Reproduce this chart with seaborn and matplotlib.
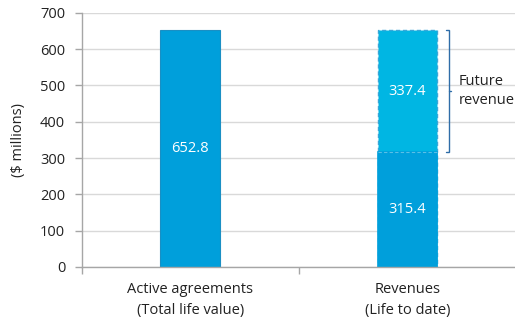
import matplotlib
matplotlib.use("Agg")
import matplotlib.pyplot as plt
import seaborn as sns
import pandas as pd

categories = ["Active agreements\n(Total life value)", "Revenues\n(Life to date)"]
total_values = [652.8, 652.8]
life_to_date = [315.4]
future_revenue = [337.4]
y_ticks = [0, 100, 200, 300, 400, 500, 600, 700]

dark_blue = "#009FDB"
light_blue = "#00B6E3"

sns.set_theme(style="white")
plt.rcParams["font.family"] = ["Open Sans", "DejaVu Sans"]

fig = plt.figure(figsize=(5.15, 3.22), dpi=100)
ax = fig.add_axes([0.159, 0.171, 0.843, 0.789])

# Full-height bars: total life value, and total of revenues (life to date + future)
df_total = pd.DataFrame({"category": categories, "value": total_values})
sns.barplot(data=df_total, x="category", y="value", hue="category",
            palette=[dark_blue, light_blue], width=0.276, legend=False, ax=ax,
            saturation=1)
bars = list(ax.patches)
bars[0].set_edgecolor("#1A8FC4")
bars[0].set_linewidth(0.8)
bars[1].set_edgecolor("#3AA6D8")
bars[1].set_linewidth(1.0)
bars[1].set_linestyle((0, (3, 2)))

# Revenue recognised to date, drawn over the lower part of the second bar
df_ltd = pd.DataFrame({"category": [categories[1]], "value": life_to_date})
sns.barplot(data=df_ltd, x="category", y="value", color=dark_blue,
            width=0.276, ax=ax, saturation=1, order=categories,
            linewidth=1.2, edgecolor=dark_blue)

# Dashed boundary between recognised and future revenue
ax.hlines(life_to_date[0], 1 - 0.138, 1 + 0.138, colors="#5BBFE6",
          linestyles=(0, (3, 2)), linewidth=0.8, zorder=5)

# Value labels
label_kw = dict(color="white", ha="center", va="center", fontsize=10.5)
ax.text(0, total_values[0] / 2, f"{total_values[0]:.1f}", **label_kw)
ax.text(1, life_to_date[0] / 2, f"{life_to_date[0]:.1f}", **label_kw)
ax.text(1, life_to_date[0] + future_revenue[0] / 2, f"{future_revenue[0]:.1f}",
        **label_kw)

# Bracket marking future revenue
lo = life_to_date[0]
hi = life_to_date[0] + future_revenue[0]
mid = (lo + hi) / 2
bx = 1.19
hook = 0.012
bracket_color = "#2F6DA8"
ax.plot([bx - hook, bx, bx, bx - hook], [hi, hi, lo, lo],
        color=bracket_color, lw=1, solid_joinstyle="miter", clip_on=False)
ax.plot([bx, bx + hook], [mid, mid], color=bracket_color, lw=1, clip_on=False)
ax.text(bx + 0.045, mid, "Future\nrevenue", ha="left", va="center",
        fontsize=10.5, color="#222222", linespacing=1.4)

# Axes styling
ax.set_xlim(-0.5, 1.5)
ax.set_ylim(0, 700)
ax.set_yticks(y_ticks)
ax.set_yticklabels([str(t) for t in y_ticks])
ax.yaxis.grid(True, color="#D9D9D9", linewidth=1)
ax.set_axisbelow(True)

ax.set_xticks([-0.5, 0.5, 1.5])
ax.set_xticklabels(["", "", ""])
ax.set_xticks([0, 1], minor=True)
ax.set_xticklabels(categories, minor=True, fontsize=10.5, color="#222222",
                   linespacing=1.55)
ax.tick_params(axis="x", which="major", length=5, color="#A6A6A6", width=1,
               bottom=True)
ax.tick_params(axis="x", which="minor", length=0, pad=11)
ax.tick_params(axis="y", length=5, color="#A6A6A6", width=1, left=True,
               labelsize=10.5, labelcolor="#222222", pad=7)
ax.set_xlabel("")
ax.set_ylabel("($ millions)", fontsize=10.5, color="#222222", labelpad=10)

for side in ["top", "right"]:
    ax.spines[side].set_visible(False)
for side in ["left", "bottom"]:
    ax.spines[side].set_color("#A6A6A6")
    ax.spines[side].set_linewidth(1)

fig.savefig("out.png", dpi=100)
